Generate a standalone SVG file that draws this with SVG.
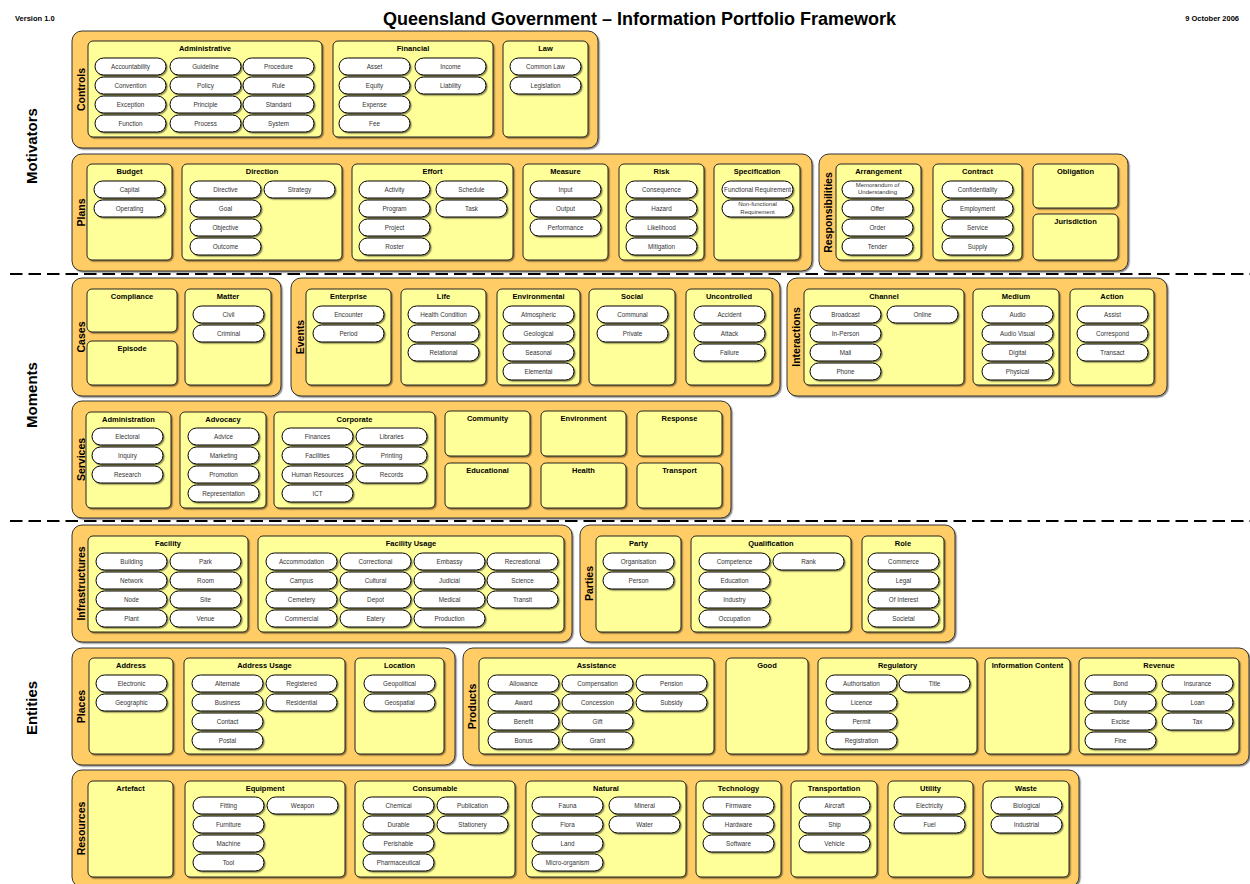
<svg xmlns="http://www.w3.org/2000/svg" width="1250" height="884" viewBox="0 0 1250 884">
<defs>
<filter id="sh" x="-5%" y="-5%" width="115%" height="130%"><feDropShadow dx="1.3" dy="1.3" stdDeviation="0.4" flood-color="#000" flood-opacity="0.45"/></filter>
<rect id="p" width="71" height="17" rx="8.5" fill="#fff" stroke="#000" stroke-width="1" filter="url(#sh)"/>
</defs>
<style>
text{font-family:"Liberation Sans",Arial,sans-serif}
.o{fill:#FFCC66;stroke:#333;stroke-width:1;filter:url(#sh)}
.i{fill:#FFFF99;stroke:#222;stroke-width:1;filter:url(#sh)}
.b{font-family:"Liberation Sans",Arial,sans-serif;font-size:6.3px;text-anchor:middle;fill:#333}
.t{font-weight:bold;font-size:7.5px;text-anchor:middle;fill:#000}
.L{font-weight:bold;font-size:10.5px;text-anchor:middle;fill:#000}
.S{font-weight:bold;font-size:15px;text-anchor:middle;fill:#000}
.h{font-weight:bold;font-size:7.5px;fill:#000}
.sep{stroke:#000;stroke-width:2;stroke-dasharray:12.5 6;fill:none}
</style>
<rect width="1250" height="884" fill="#fff"/>
<g id="header">
<text class="h" x="15" y="20.5">Version 1.0</text>
<text x="639.5" y="25" font-weight="bold" font-size="18" text-anchor="middle" textLength="513" lengthAdjust="spacingAndGlyphs">Queensland Government – Information Portfolio Framework</text>
<text class="h" x="1239" y="20.5" text-anchor="end">9 October 2006</text>
</g>
<g id="sections">
<text class="S" transform="translate(37,146) rotate(-90)">Motivators</text>
<text class="S" transform="translate(37,395) rotate(-90)">Moments</text>
<text class="S" transform="translate(37,708) rotate(-90)">Entities</text>
</g>
<g id="connectors">
<line class="sep" x1="10" y1="274" x2="1250" y2="274"/>
<line class="sep" x1="10" y1="521" x2="1250" y2="521"/>
</g>

<g id="g-controls">
<rect class="o" x="72" y="31" width="526" height="117" rx="10"/>
<text class="L" transform="translate(85,89.5) rotate(-90)">Controls</text>
<g id="b-administrative" class="b">
<rect class="i" x="88" y="41" width="234" height="96" rx="5"/><text class="t" x="205" y="51">Administrative</text>
<g id="n-accountability"><use href="#p" x="95" y="58"/><text x="130.5" y="69">Accountability</text></g>
<g id="n-convention"><use href="#p" x="95" y="77"/><text x="130.5" y="88">Convention</text></g>
<g id="n-exception"><use href="#p" x="95" y="96"/><text x="130.5" y="107">Exception</text></g>
<g id="n-function"><use href="#p" x="95" y="115"/><text x="130.5" y="126">Function</text></g>
<g id="n-guideline"><use href="#p" x="170" y="58"/><text x="205.5" y="69">Guideline</text></g>
<g id="n-policy"><use href="#p" x="170" y="77"/><text x="205.5" y="88">Policy</text></g>
<g id="n-principle"><use href="#p" x="170" y="96"/><text x="205.5" y="107">Principle</text></g>
<g id="n-process"><use href="#p" x="170" y="115"/><text x="205.5" y="126">Process</text></g>
<g id="n-procedure"><use href="#p" x="243" y="58"/><text x="278.5" y="69">Procedure</text></g>
<g id="n-rule"><use href="#p" x="243" y="77"/><text x="278.5" y="88">Rule</text></g>
<g id="n-standard"><use href="#p" x="243" y="96"/><text x="278.5" y="107">Standard</text></g>
<g id="n-system"><use href="#p" x="243" y="115"/><text x="278.5" y="126">System</text></g>
</g>
<g id="b-financial" class="b">
<rect class="i" x="333" y="41" width="160" height="96" rx="5"/><text class="t" x="413" y="51">Financial</text>
<g id="n-asset"><use href="#p" x="339" y="58"/><text x="374.5" y="69">Asset</text></g>
<g id="n-equity"><use href="#p" x="339" y="77"/><text x="374.5" y="88">Equity</text></g>
<g id="n-expense"><use href="#p" x="339" y="96"/><text x="374.5" y="107">Expense</text></g>
<g id="n-fee"><use href="#p" x="339" y="115"/><text x="374.5" y="126">Fee</text></g>
<g id="n-income"><use href="#p" x="415" y="58"/><text x="450.5" y="69">Income</text></g>
<g id="n-liability"><use href="#p" x="415" y="77"/><text x="450.5" y="88">Liability</text></g>
</g>
<g id="b-law" class="b">
<rect class="i" x="503" y="41" width="85" height="96" rx="5"/><text class="t" x="545.5" y="51">Law</text>
<g id="n-commonlaw"><use href="#p" x="510" y="58"/><text x="545.5" y="69">Common Law</text></g>
<g id="n-legislation"><use href="#p" x="510" y="77"/><text x="545.5" y="88">Legislation</text></g>
</g>
</g>

<g id="g-plans">
<rect class="o" x="72" y="154" width="740" height="117" rx="10"/>
<text class="L" transform="translate(85,212.5) rotate(-90)">Plans</text>
<g id="b-budget" class="b">
<rect class="i" x="87" y="164" width="85" height="96" rx="5"/><text class="t" x="129.5" y="174">Budget</text>
<g id="n-capital"><use href="#p" x="94" y="181"/><text x="129.5" y="192">Capital</text></g>
<g id="n-operating"><use href="#p" x="94" y="200"/><text x="129.5" y="211">Operating</text></g>
</g>
<g id="b-direction" class="b">
<rect class="i" x="182" y="164" width="160" height="96" rx="5"/><text class="t" x="262" y="174">Direction</text>
<g id="n-directive"><use href="#p" x="190" y="181"/><text x="225.5" y="192">Directive</text></g>
<g id="n-goal"><use href="#p" x="190" y="200"/><text x="225.5" y="211">Goal</text></g>
<g id="n-objective"><use href="#p" x="190" y="219"/><text x="225.5" y="230">Objective</text></g>
<g id="n-outcome"><use href="#p" x="190" y="238"/><text x="225.5" y="249">Outcome</text></g>
<g id="n-strategy"><use href="#p" x="264" y="181"/><text x="299.5" y="192">Strategy</text></g>
</g>
<g id="b-effort" class="b">
<rect class="i" x="352" y="164" width="161" height="96" rx="5"/><text class="t" x="432.5" y="174">Effort</text>
<g id="n-activity"><use href="#p" x="359" y="181"/><text x="394.5" y="192">Activity</text></g>
<g id="n-program"><use href="#p" x="359" y="200"/><text x="394.5" y="211">Program</text></g>
<g id="n-project"><use href="#p" x="359" y="219"/><text x="394.5" y="230">Project</text></g>
<g id="n-roster"><use href="#p" x="359" y="238"/><text x="394.5" y="249">Roster</text></g>
<g id="n-schedule"><use href="#p" x="436" y="181"/><text x="471.5" y="192">Schedule</text></g>
<g id="n-task"><use href="#p" x="436" y="200"/><text x="471.5" y="211">Task</text></g>
</g>
<g id="b-measure" class="b">
<rect class="i" x="523" y="164" width="85" height="96" rx="5"/><text class="t" x="565.5" y="174">Measure</text>
<g id="n-input"><use href="#p" x="530" y="181"/><text x="565.5" y="192">Input</text></g>
<g id="n-output"><use href="#p" x="530" y="200"/><text x="565.5" y="211">Output</text></g>
<g id="n-performance"><use href="#p" x="530" y="219"/><text x="565.5" y="230">Performance</text></g>
</g>
<g id="b-risk" class="b">
<rect class="i" x="619" y="164" width="85" height="96" rx="5"/><text class="t" x="661.5" y="174">Risk</text>
<g id="n-consequence"><use href="#p" x="626" y="181"/><text x="661.5" y="192">Consequence</text></g>
<g id="n-hazard"><use href="#p" x="626" y="200"/><text x="661.5" y="211">Hazard</text></g>
<g id="n-likelihood"><use href="#p" x="626" y="219"/><text x="661.5" y="230">Likelihood</text></g>
<g id="n-mitigation"><use href="#p" x="626" y="238"/><text x="661.5" y="249">Mitigation</text></g>
</g>
<g id="b-specification" class="b">
<rect class="i" x="714" y="164" width="86" height="96" rx="5"/><text class="t" x="757" y="174">Specification</text>
<g id="n-functionalreq"><use href="#p" x="722" y="181"/><text x="757.5" y="192">Functional Requirement</text></g>
<g id="n-nonfunctionalreq"><use href="#p" x="722" y="200"/><text x="757.5" y="206.3" font-size="6">Non-functional</text><text x="757.5" y="213.8" font-size="6">Requirement</text></g>
</g>
</g>

<g id="g-responsibilities">
<rect class="o" x="819" y="154" width="309" height="117" rx="10"/>
<text class="L" transform="translate(832,212.5) rotate(-90)">Responsibilities</text>
<g id="b-arrangement" class="b">
<rect class="i" x="836" y="164" width="85" height="96" rx="5"/><text class="t" x="878.5" y="174">Arrangement</text>
<g id="n-mou"><use href="#p" x="842" y="181"/><text x="877.5" y="186.6" font-size="6">Memorandum of</text><text x="877.5" y="194.4" font-size="6">Understanding</text></g>
<g id="n-offer"><use href="#p" x="842" y="200"/><text x="877.5" y="211">Offer</text></g>
<g id="n-order"><use href="#p" x="842" y="219"/><text x="877.5" y="230">Order</text></g>
<g id="n-tender"><use href="#p" x="842" y="238"/><text x="877.5" y="249">Tender</text></g>
</g>
<g id="b-contract" class="b">
<rect class="i" x="933" y="164" width="89" height="96" rx="5"/><text class="t" x="977.5" y="174">Contract</text>
<g id="n-confidentiality"><use href="#p" x="942" y="181"/><text x="977.5" y="192">Confidentiality</text></g>
<g id="n-employment"><use href="#p" x="942" y="200"/><text x="977.5" y="211">Employment</text></g>
<g id="n-service"><use href="#p" x="942" y="219"/><text x="977.5" y="230">Service</text></g>
<g id="n-supply"><use href="#p" x="942" y="238"/><text x="977.5" y="249">Supply</text></g>
</g>
<g id="b-obligation"><rect class="i" x="1033" y="164" width="85" height="44" rx="5"/><text class="t" x="1075.5" y="174">Obligation</text></g>
<g id="b-jurisdiction"><rect class="i" x="1033" y="214" width="85" height="46" rx="5"/><text class="t" x="1075.5" y="224">Jurisdiction</text></g>
</g>

<g id="g-cases">
<rect class="o" x="72" y="278" width="209" height="118" rx="10"/>
<text class="L" transform="translate(85,337) rotate(-90)">Cases</text>
<g id="b-compliance"><rect class="i" x="87" y="289" width="90" height="43" rx="5"/><text class="t" x="132" y="299">Compliance</text></g>
<g id="b-episode"><rect class="i" x="87" y="341" width="90" height="44" rx="5"/><text class="t" x="132" y="351">Episode</text></g>
<g id="b-matter" class="b">
<rect class="i" x="185" y="289" width="86" height="96" rx="5"/><text class="t" x="228" y="299">Matter</text>
<g id="n-civil"><use href="#p" x="193" y="306"/><text x="228.5" y="317">Civil</text></g>
<g id="n-criminal"><use href="#p" x="193" y="325"/><text x="228.5" y="336">Criminal</text></g>
</g>
</g>

<g id="g-events">
<rect class="o" x="291" y="278" width="489" height="118" rx="10"/>
<text class="L" transform="translate(304,337) rotate(-90)">Events</text>
<g id="b-enterprise" class="b">
<rect class="i" x="306" y="289" width="85" height="96" rx="5"/><text class="t" x="348.5" y="299">Enterprise</text>
<g id="n-encounter"><use href="#p" x="313" y="306"/><text x="348.5" y="317">Encounter</text></g>
<g id="n-period"><use href="#p" x="313" y="325"/><text x="348.5" y="336">Period</text></g>
</g>
<g id="b-life" class="b">
<rect class="i" x="401" y="289" width="85" height="96" rx="5"/><text class="t" x="443.5" y="299">Life</text>
<g id="n-healthcondition"><use href="#p" x="408" y="306"/><text x="443.5" y="317">Health Condition</text></g>
<g id="n-personal"><use href="#p" x="408" y="325"/><text x="443.5" y="336">Personal</text></g>
<g id="n-relational"><use href="#p" x="408" y="344"/><text x="443.5" y="355">Relational</text></g>
</g>
<g id="b-environmental" class="b">
<rect class="i" x="497" y="289" width="83" height="96" rx="5"/><text class="t" x="538.5" y="299">Environmental</text>
<g id="n-atmospheric"><use href="#p" x="503" y="306"/><text x="538.5" y="317">Atmospheric</text></g>
<g id="n-geological"><use href="#p" x="503" y="325"/><text x="538.5" y="336">Geological</text></g>
<g id="n-seasonal"><use href="#p" x="503" y="344"/><text x="538.5" y="355">Seasonal</text></g>
<g id="n-elemental"><use href="#p" x="503" y="363"/><text x="538.5" y="374">Elemental</text></g>
</g>
<g id="b-social" class="b">
<rect class="i" x="589" y="289" width="86" height="96" rx="5"/><text class="t" x="632" y="299">Social</text>
<g id="n-communal"><use href="#p" x="597" y="306"/><text x="632.5" y="317">Communal</text></g>
<g id="n-private"><use href="#p" x="597" y="325"/><text x="632.5" y="336">Private</text></g>
</g>
<g id="b-uncontrolled" class="b">
<rect class="i" x="686" y="289" width="86" height="96" rx="5"/><text class="t" x="729" y="299">Uncontrolled</text>
<g id="n-accident"><use href="#p" x="694" y="306"/><text x="729.5" y="317">Accident</text></g>
<g id="n-attack"><use href="#p" x="694" y="325"/><text x="729.5" y="336">Attack</text></g>
<g id="n-failure"><use href="#p" x="694" y="344"/><text x="729.5" y="355">Failure</text></g>
</g>
</g>

<g id="g-interactions">
<rect class="o" x="787" y="278" width="380" height="118" rx="10"/>
<text class="L" transform="translate(800,337) rotate(-90)">Interactions</text>
<g id="b-channel" class="b">
<rect class="i" x="804" y="289" width="160" height="96" rx="5"/><text class="t" x="884" y="299">Channel</text>
<g id="n-broadcast"><use href="#p" x="810" y="306"/><text x="845.5" y="317">Broadcast</text></g>
<g id="n-inperson"><use href="#p" x="810" y="325"/><text x="845.5" y="336">In-Person</text></g>
<g id="n-mail"><use href="#p" x="810" y="344"/><text x="845.5" y="355">Mail</text></g>
<g id="n-phone"><use href="#p" x="810" y="363"/><text x="845.5" y="374">Phone</text></g>
<g id="n-online"><use href="#p" x="887" y="306"/><text x="922.5" y="317">Online</text></g>
</g>
<g id="b-medium" class="b">
<rect class="i" x="973" y="289" width="86" height="96" rx="5"/><text class="t" x="1016" y="299">Medium</text>
<g id="n-audio"><use href="#p" x="982" y="306"/><text x="1017.5" y="317">Audio</text></g>
<g id="n-audiovisual"><use href="#p" x="982" y="325"/><text x="1017.5" y="336">Audio Visual</text></g>
<g id="n-digital"><use href="#p" x="982" y="344"/><text x="1017.5" y="355">Digital</text></g>
<g id="n-physical"><use href="#p" x="982" y="363"/><text x="1017.5" y="374">Physical</text></g>
</g>
<g id="b-action" class="b">
<rect class="i" x="1070" y="289" width="84" height="96" rx="5"/><text class="t" x="1112" y="299">Action</text>
<g id="n-assist"><use href="#p" x="1077" y="306"/><text x="1112.5" y="317">Assist</text></g>
<g id="n-correspond"><use href="#p" x="1077" y="325"/><text x="1112.5" y="336">Correspond</text></g>
<g id="n-transact"><use href="#p" x="1077" y="344"/><text x="1112.5" y="355">Transact</text></g>
</g>
</g>

<g id="g-services">
<rect class="o" x="72" y="401" width="659" height="117" rx="10"/>
<text class="L" transform="translate(85,459.5) rotate(-90)">Services</text>
<g id="b-administration" class="b">
<rect class="i" x="86" y="412" width="85" height="96" rx="5"/><text class="t" x="128.5" y="422">Administration</text>
<g id="n-electoral"><use href="#p" x="92" y="428"/><text x="127.5" y="439">Electoral</text></g>
<g id="n-inquiry"><use href="#p" x="92" y="447"/><text x="127.5" y="458">Inquiry</text></g>
<g id="n-research"><use href="#p" x="92" y="466"/><text x="127.5" y="477">Research</text></g>
</g>
<g id="b-advocacy" class="b">
<rect class="i" x="180" y="412" width="86" height="96" rx="5"/><text class="t" x="223" y="422">Advocacy</text>
<g id="n-advice"><use href="#p" x="188" y="428"/><text x="223.5" y="439">Advice</text></g>
<g id="n-marketing"><use href="#p" x="188" y="447"/><text x="223.5" y="458">Marketing</text></g>
<g id="n-promotion"><use href="#p" x="188" y="466"/><text x="223.5" y="477">Promotion</text></g>
<g id="n-representation"><use href="#p" x="188" y="485"/><text x="223.5" y="496">Representation</text></g>
</g>
<g id="b-corporate" class="b">
<rect class="i" x="274" y="412" width="161" height="96" rx="5"/><text class="t" x="354.5" y="422">Corporate</text>
<g id="n-finances"><use href="#p" x="282" y="428"/><text x="317.5" y="439">Finances</text></g>
<g id="n-facilities"><use href="#p" x="282" y="447"/><text x="317.5" y="458">Facilities</text></g>
<g id="n-humanresources"><use href="#p" x="282" y="466"/><text x="317.5" y="477">Human Resources</text></g>
<g id="n-ict"><use href="#p" x="282" y="485"/><text x="317.5" y="496">ICT</text></g>
<g id="n-libraries"><use href="#p" x="356" y="428"/><text x="391.5" y="439">Libraries</text></g>
<g id="n-printing"><use href="#p" x="356" y="447"/><text x="391.5" y="458">Printing</text></g>
<g id="n-records"><use href="#p" x="356" y="466"/><text x="391.5" y="477">Records</text></g>
</g>
<g id="b-community"><rect class="i" x="445" y="411" width="85" height="45" rx="5"/><text class="t" x="487.5" y="421">Community</text></g>
<g id="b-environment"><rect class="i" x="541" y="411" width="85" height="45" rx="5"/><text class="t" x="583.5" y="421">Environment</text></g>
<g id="b-response"><rect class="i" x="637" y="411" width="85" height="45" rx="5"/><text class="t" x="679.5" y="421">Response</text></g>
<g id="b-educational"><rect class="i" x="445" y="463" width="85" height="45" rx="5"/><text class="t" x="487.5" y="473">Educational</text></g>
<g id="b-health"><rect class="i" x="541" y="463" width="85" height="45" rx="5"/><text class="t" x="583.5" y="473">Health</text></g>
<g id="b-transport"><rect class="i" x="637" y="463" width="85" height="45" rx="5"/><text class="t" x="679.5" y="473">Transport</text></g>
</g>

<g id="g-infrastructures">
<rect class="o" x="72" y="525" width="500" height="117" rx="10"/>
<text class="L" transform="translate(85,583.5) rotate(-90)">Infrastructures</text>
<g id="b-facility" class="b">
<rect class="i" x="88" y="536" width="160" height="96" rx="5"/><text class="t" x="168" y="546">Facility</text>
<g id="n-building"><use href="#p" x="96" y="553"/><text x="131.5" y="564">Building</text></g>
<g id="n-network"><use href="#p" x="96" y="572"/><text x="131.5" y="583">Network</text></g>
<g id="n-node"><use href="#p" x="96" y="591"/><text x="131.5" y="602">Node</text></g>
<g id="n-plant"><use href="#p" x="96" y="610"/><text x="131.5" y="621">Plant</text></g>
<g id="n-park"><use href="#p" x="170" y="553"/><text x="205.5" y="564">Park</text></g>
<g id="n-room"><use href="#p" x="170" y="572"/><text x="205.5" y="583">Room</text></g>
<g id="n-site"><use href="#p" x="170" y="591"/><text x="205.5" y="602">Site</text></g>
<g id="n-venue"><use href="#p" x="170" y="610"/><text x="205.5" y="621">Venue</text></g>
</g>
<g id="b-facilityusage" class="b">
<rect class="i" x="258" y="536" width="306" height="96" rx="5"/><text class="t" x="411" y="546">Facility Usage</text>
<g id="n-accommodation"><use href="#p" x="266" y="553"/><text x="301.5" y="564">Accommodation</text></g>
<g id="n-campus"><use href="#p" x="266" y="572"/><text x="301.5" y="583">Campus</text></g>
<g id="n-cemetery"><use href="#p" x="266" y="591"/><text x="301.5" y="602">Cemetery</text></g>
<g id="n-commercial"><use href="#p" x="266" y="610"/><text x="301.5" y="621">Commercial</text></g>
<g id="n-correctional"><use href="#p" x="340" y="553"/><text x="375.5" y="564">Correctional</text></g>
<g id="n-cultural"><use href="#p" x="340" y="572"/><text x="375.5" y="583">Cultural</text></g>
<g id="n-depot"><use href="#p" x="340" y="591"/><text x="375.5" y="602">Depot</text></g>
<g id="n-eatery"><use href="#p" x="340" y="610"/><text x="375.5" y="621">Eatery</text></g>
<g id="n-embassy"><use href="#p" x="414" y="553"/><text x="449.5" y="564">Embassy</text></g>
<g id="n-judicial"><use href="#p" x="414" y="572"/><text x="449.5" y="583">Judicial</text></g>
<g id="n-medical"><use href="#p" x="414" y="591"/><text x="449.5" y="602">Medical</text></g>
<g id="n-production"><use href="#p" x="414" y="610"/><text x="449.5" y="621">Production</text></g>
<g id="n-recreational"><use href="#p" x="487" y="553"/><text x="522.5" y="564">Recreational</text></g>
<g id="n-science"><use href="#p" x="487" y="572"/><text x="522.5" y="583">Science</text></g>
<g id="n-transit"><use href="#p" x="487" y="591"/><text x="522.5" y="602">Transit</text></g>
</g>
</g>

<g id="g-parties">
<rect class="o" x="580" y="525" width="375" height="117" rx="10"/>
<text class="L" transform="translate(593,583.5) rotate(-90)">Parties</text>
<g id="b-party" class="b">
<rect class="i" x="596" y="536" width="85" height="96" rx="5"/><text class="t" x="638.5" y="546">Party</text>
<g id="n-organisation"><use href="#p" x="603" y="553"/><text x="638.5" y="564">Organisation</text></g>
<g id="n-person"><use href="#p" x="603" y="572"/><text x="638.5" y="583">Person</text></g>
</g>
<g id="b-qualification" class="b">
<rect class="i" x="691" y="536" width="160" height="96" rx="5"/><text class="t" x="771" y="546">Qualification</text>
<g id="n-competence"><use href="#p" x="699" y="553"/><text x="734.5" y="564">Competence</text></g>
<g id="n-education"><use href="#p" x="699" y="572"/><text x="734.5" y="583">Education</text></g>
<g id="n-industry"><use href="#p" x="699" y="591"/><text x="734.5" y="602">Industry</text></g>
<g id="n-occupation"><use href="#p" x="699" y="610"/><text x="734.5" y="621">Occupation</text></g>
<g id="n-rank"><use href="#p" x="773" y="553"/><text x="808.5" y="564">Rank</text></g>
</g>
<g id="b-role" class="b">
<rect class="i" x="862" y="536" width="82" height="96" rx="5"/><text class="t" x="903" y="546">Role</text>
<g id="n-commerce"><use href="#p" x="868" y="553"/><text x="903.5" y="564">Commerce</text></g>
<g id="n-legal"><use href="#p" x="868" y="572"/><text x="903.5" y="583">Legal</text></g>
<g id="n-ofinterest"><use href="#p" x="868" y="591"/><text x="903.5" y="602">Of Interest</text></g>
<g id="n-societal"><use href="#p" x="868" y="610"/><text x="903.5" y="621">Societal</text></g>
</g>
</g>

<g id="g-places">
<rect class="o" x="72" y="648" width="383" height="117" rx="10"/>
<text class="L" transform="translate(85,706.5) rotate(-90)">Places</text>
<g id="b-address" class="b">
<rect class="i" x="89" y="658" width="84" height="96" rx="5"/><text class="t" x="131" y="668">Address</text>
<g id="n-electronic"><use href="#p" x="96" y="675"/><text x="131.5" y="686">Electronic</text></g>
<g id="n-geographic"><use href="#p" x="96" y="694"/><text x="131.5" y="705">Geographic</text></g>
</g>
<g id="b-addressusage" class="b">
<rect class="i" x="184" y="658" width="161" height="96" rx="5"/><text class="t" x="264.5" y="668">Address Usage</text>
<g id="n-alternate"><use href="#p" x="192" y="675"/><text x="227.5" y="686">Alternate</text></g>
<g id="n-business"><use href="#p" x="192" y="694"/><text x="227.5" y="705">Business</text></g>
<g id="n-contact"><use href="#p" x="192" y="713"/><text x="227.5" y="724">Contact</text></g>
<g id="n-postal"><use href="#p" x="192" y="732"/><text x="227.5" y="743">Postal</text></g>
<g id="n-registered"><use href="#p" x="266" y="675"/><text x="301.5" y="686">Registered</text></g>
<g id="n-residential"><use href="#p" x="266" y="694"/><text x="301.5" y="705">Residential</text></g>
</g>
<g id="b-location" class="b">
<rect class="i" x="355" y="658" width="89" height="96" rx="5"/><text class="t" x="399.5" y="668">Location</text>
<g id="n-geopolitical"><use href="#p" x="364" y="675"/><text x="399.5" y="686">Geopolitical</text></g>
<g id="n-geospatial"><use href="#p" x="364" y="694"/><text x="399.5" y="705">Geospatial</text></g>
</g>
</g>

<g id="g-products">
<rect class="o" x="463" y="648" width="786" height="117" rx="10"/>
<text class="L" transform="translate(476,706.5) rotate(-90)">Products</text>
<g id="b-assistance" class="b">
<rect class="i" x="479" y="658" width="235" height="96" rx="5"/><text class="t" x="596.5" y="668">Assistance</text>
<g id="n-allowance"><use href="#p" x="488" y="675"/><text x="523.5" y="686">Allowance</text></g>
<g id="n-award"><use href="#p" x="488" y="694"/><text x="523.5" y="705">Award</text></g>
<g id="n-benefit"><use href="#p" x="488" y="713"/><text x="523.5" y="724">Benefit</text></g>
<g id="n-bonus"><use href="#p" x="488" y="732"/><text x="523.5" y="743">Bonus</text></g>
<g id="n-compensation"><use href="#p" x="562" y="675"/><text x="597.5" y="686">Compensation</text></g>
<g id="n-concession"><use href="#p" x="562" y="694"/><text x="597.5" y="705">Concession</text></g>
<g id="n-gift"><use href="#p" x="562" y="713"/><text x="597.5" y="724">Gift</text></g>
<g id="n-grant"><use href="#p" x="562" y="732"/><text x="597.5" y="743">Grant</text></g>
<g id="n-pension"><use href="#p" x="636" y="675"/><text x="671.5" y="686">Pension</text></g>
<g id="n-subsidy"><use href="#p" x="636" y="694"/><text x="671.5" y="705">Subsidy</text></g>
</g>
<g id="b-good"><rect class="i" x="726" y="658" width="82" height="96" rx="5"/><text class="t" x="767" y="668">Good</text></g>
<g id="b-regulatory" class="b">
<rect class="i" x="818" y="658" width="159" height="96" rx="5"/><text class="t" x="897.5" y="668">Regulatory</text>
<g id="n-authorisation"><use href="#p" x="826" y="675"/><text x="861.5" y="686">Authorisation</text></g>
<g id="n-licence"><use href="#p" x="826" y="694"/><text x="861.5" y="705">Licence</text></g>
<g id="n-permit"><use href="#p" x="826" y="713"/><text x="861.5" y="724">Permit</text></g>
<g id="n-registration"><use href="#p" x="826" y="732"/><text x="861.5" y="743">Registration</text></g>
<g id="n-title"><use href="#p" x="899" y="675"/><text x="934.5" y="686">Title</text></g>
</g>
<g id="b-informationcontent"><rect class="i" x="985" y="658" width="85" height="96" rx="5"/><text class="t" x="1027.5" y="668">Information Content</text></g>
<g id="b-revenue" class="b">
<rect class="i" x="1079" y="658" width="160" height="96" rx="5"/><text class="t" x="1159" y="668">Revenue</text>
<g id="n-bond"><use href="#p" x="1085" y="675"/><text x="1120.5" y="686">Bond</text></g>
<g id="n-duty"><use href="#p" x="1085" y="694"/><text x="1120.5" y="705">Duty</text></g>
<g id="n-excise"><use href="#p" x="1085" y="713"/><text x="1120.5" y="724">Excise</text></g>
<g id="n-fine"><use href="#p" x="1085" y="732"/><text x="1120.5" y="743">Fine</text></g>
<g id="n-insurance"><use href="#p" x="1162" y="675"/><text x="1197.5" y="686">Insurance</text></g>
<g id="n-loan"><use href="#p" x="1162" y="694"/><text x="1197.5" y="705">Loan</text></g>
<g id="n-tax"><use href="#p" x="1162" y="713"/><text x="1197.5" y="724">Tax</text></g>
</g>
</g>

<g id="g-resources">
<rect class="o" x="72" y="770" width="1007" height="117" rx="10"/>
<text class="L" transform="translate(85,828.5) rotate(-90)">Resources</text>
<g id="b-artefact"><rect class="i" x="88" y="781" width="85" height="96" rx="5"/><text class="t" x="130.5" y="791">Artefact</text></g>
<g id="b-equipment" class="b">
<rect class="i" x="185" y="781" width="160" height="96" rx="5"/><text class="t" x="265" y="791">Equipment</text>
<g id="n-fitting"><use href="#p" x="193" y="797"/><text x="228.5" y="808">Fitting</text></g>
<g id="n-furniture"><use href="#p" x="193" y="816"/><text x="228.5" y="827">Furniture</text></g>
<g id="n-machine"><use href="#p" x="193" y="835"/><text x="228.5" y="846">Machine</text></g>
<g id="n-tool"><use href="#p" x="193" y="854"/><text x="228.5" y="865">Tool</text></g>
<g id="n-weapon"><use href="#p" x="267" y="797"/><text x="302.5" y="808">Weapon</text></g>
</g>
<g id="b-consumable" class="b">
<rect class="i" x="355" y="781" width="160" height="96" rx="5"/><text class="t" x="435" y="791">Consumable</text>
<g id="n-chemical"><use href="#p" x="363" y="797"/><text x="398.5" y="808">Chemical</text></g>
<g id="n-durable"><use href="#p" x="363" y="816"/><text x="398.5" y="827">Durable</text></g>
<g id="n-perishable"><use href="#p" x="363" y="835"/><text x="398.5" y="846">Perishable</text></g>
<g id="n-pharmaceutical"><use href="#p" x="363" y="854"/><text x="398.5" y="865">Pharmaceutical</text></g>
<g id="n-publication"><use href="#p" x="437" y="797"/><text x="472.5" y="808">Publication</text></g>
<g id="n-stationery"><use href="#p" x="437" y="816"/><text x="472.5" y="827">Stationery</text></g>
</g>
<g id="b-natural" class="b">
<rect class="i" x="526" y="781" width="160" height="96" rx="5"/><text class="t" x="606" y="791">Natural</text>
<g id="n-fauna"><use href="#p" x="532" y="797"/><text x="567.5" y="808">Fauna</text></g>
<g id="n-flora"><use href="#p" x="532" y="816"/><text x="567.5" y="827">Flora</text></g>
<g id="n-land"><use href="#p" x="532" y="835"/><text x="567.5" y="846">Land</text></g>
<g id="n-microorganism"><use href="#p" x="532" y="854"/><text x="567.5" y="865">Micro-organism</text></g>
<g id="n-mineral"><use href="#p" x="609" y="797"/><text x="644.5" y="808">Mineral</text></g>
<g id="n-water"><use href="#p" x="609" y="816"/><text x="644.5" y="827">Water</text></g>
</g>
<g id="b-technology" class="b">
<rect class="i" x="696" y="781" width="85" height="96" rx="5"/><text class="t" x="738.5" y="791">Technology</text>
<g id="n-firmware"><use href="#p" x="703" y="797"/><text x="738.5" y="808">Firmware</text></g>
<g id="n-hardware"><use href="#p" x="703" y="816"/><text x="738.5" y="827">Hardware</text></g>
<g id="n-software"><use href="#p" x="703" y="835"/><text x="738.5" y="846">Software</text></g>
</g>
<g id="b-transportation" class="b">
<rect class="i" x="791" y="781" width="86" height="96" rx="5"/><text class="t" x="834" y="791">Transportation</text>
<g id="n-aircraft"><use href="#p" x="799" y="797"/><text x="834.5" y="808">Aircraft</text></g>
<g id="n-ship"><use href="#p" x="799" y="816"/><text x="834.5" y="827">Ship</text></g>
<g id="n-vehicle"><use href="#p" x="799" y="835"/><text x="834.5" y="846">Vehicle</text></g>
</g>
<g id="b-utility" class="b">
<rect class="i" x="888" y="781" width="85" height="96" rx="5"/><text class="t" x="930.5" y="791">Utility</text>
<g id="n-electricity"><use href="#p" x="894" y="797"/><text x="929.5" y="808">Electricity</text></g>
<g id="n-fuel"><use href="#p" x="894" y="816"/><text x="929.5" y="827">Fuel</text></g>
</g>
<g id="b-waste" class="b">
<rect class="i" x="983" y="781" width="86" height="96" rx="5"/><text class="t" x="1026" y="791">Waste</text>
<g id="n-biological"><use href="#p" x="991" y="797"/><text x="1026.5" y="808">Biological</text></g>
<g id="n-industrial"><use href="#p" x="991" y="816"/><text x="1026.5" y="827">Industrial</text></g>
</g>
</g>
</svg>
